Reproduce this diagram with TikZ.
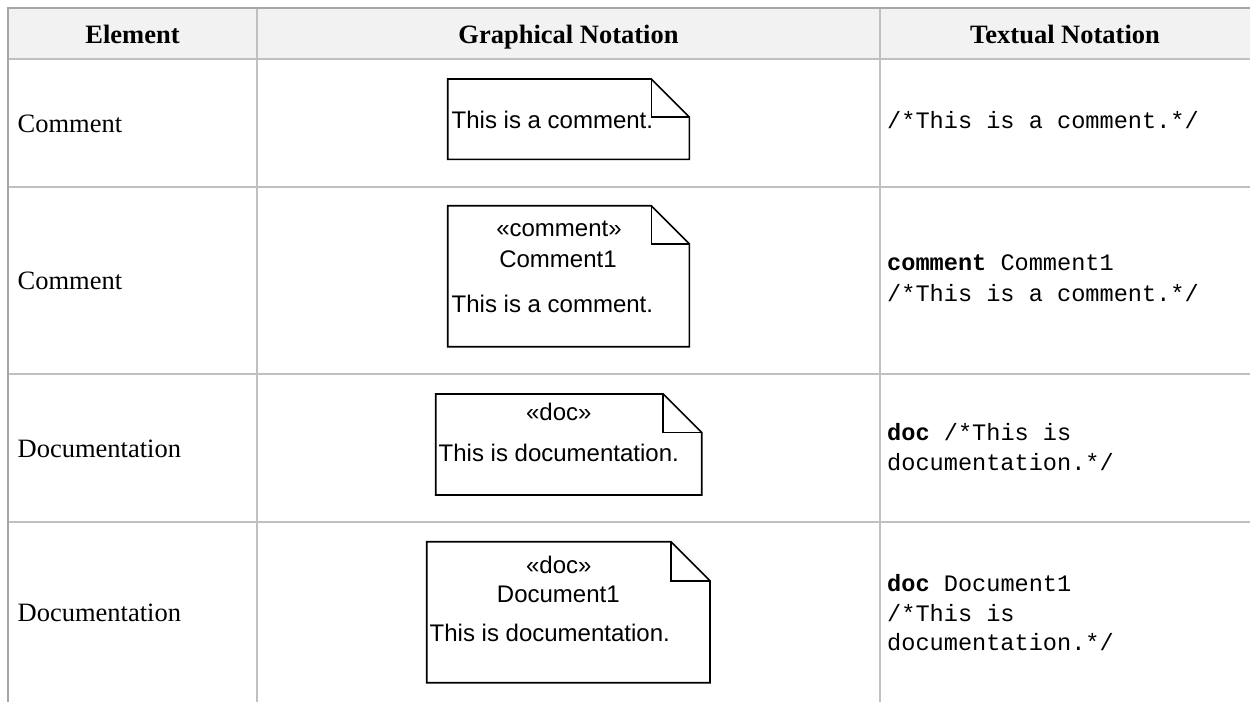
\documentclass[tikz,border=0pt]{standalone}
\usepackage{fontspec}
\setmainfont{Liberation Serif}
\setsansfont{Liberation Sans}
\setmonofont{Liberation Mono}
\definecolor{outerline}{HTML}{A6A6A6}
\definecolor{innerline}{HTML}{C0C0C0}
\definecolor{headfill}{HTML}{F2F2F2}
\newcommand\drawnote[5]{% L T R B fold
  \draw[note] (#1,#2) -- ({#3-#5},#2) -- (#3,{#2+#5}) -- (#3,#4) -- (#1,#4) -- cycle;
  \draw[note] ({#3-#5},#2) -- ({#3-#5},{#2+#5}) -- (#3,{#2+#5});
}
\begin{document}
\begin{tikzpicture}[x=1pt,y=-1pt,
  cell/.style={inner sep=0pt, font=\fontsize{26.5}{30}\selectfont, anchor=base west},
  head/.style={inner sep=0pt, font=\bfseries\fontsize{26.5}{30}\selectfont, anchor=base},
  notetext/.style={inner sep=0pt, font=\sffamily\fontsize{24}{28}\selectfont, anchor=base},
  notebody/.style={notetext, anchor=base west},
  code/.style={inner sep=0pt, font=\ttfamily\fontsize{23.6}{30}\selectfont, anchor=base west},
  note/.style={draw=black, line width=1.6pt, line join=miter},
  outer/.style={draw=outerline, line width=2.6pt},
  inner/.style={draw=innerline, line width=1.4pt}]
\useasboundingbox (0,0) rectangle (1250,702);
\fill[white] (0,0) rectangle (1250,702);
% header background
\fill[headfill] (8,8) rectangle (1250,59);
% grid lines
\draw[inner] (8,59) -- (1250,59);
\draw[inner] (8,187) -- (1250,187);
\draw[inner] (8,374) -- (1250,374);
\draw[inner] (8,522) -- (1250,522);
\draw[inner] (257,8) -- (257,702);
\draw[inner] (880,8) -- (880,702);
\draw[outer] (8,702) -- (8,8) -- (1250,8);
% header
\node[head] (h1) at (132.5,43) {Element};
\node[head] (h2) at (568.5,43) {Graphical Notation};
\node[head] (h3) at (1065,43) {Textual Notation};
% column 1
\node[cell] (e1) at (17.5,132) {Comment};
\node[cell] (e2) at (17.5,289.5) {Comment};
\node[cell] (e3) at (17.5,457) {Documentation};
\node[cell] (e4) at (17.5,621) {Documentation};
% notes
\drawnote{447.7}{79}{689.3}{159.3}{38}
\node[notebody] (n1) at (451.5,128.3) {This is a comment.};
\drawnote{447.7}{205.7}{689.3}{346.7}{38}
\node[notetext] (n2s) at (559,236.5) {«comment»};
\node[notetext] (n2n) at (558,267.3) {Comment1};
\node[notebody] (n2b) at (451.5,312.3) {This is a comment.};
\drawnote{435.7}{394}{701.7}{495}{38.5}
\node[notetext] (n3s) at (558.8,420.7) {«doc»};
\node[notebody] (n3b) at (438.5,461.7) {This is documentation.};
\drawnote{426.7}{541.7}{710}{682.7}{39}
\node[notetext] (n4s) at (558.8,573.3) {«doc»};
\node[notetext] (n4n) at (558.3,602.7) {Document1};
\node[notebody] (n4b) at (429.5,641.7) {This is documentation.};
% textual notation
\node[code] (t1) at (887,128.5) {/*This is a comment.*/};
\node[code] (t2a) at (887,270.7) {\textbf{comment} Comment1};
\node[code] (t2b) at (887,301.5) {/*This is a comment.*/};
\node[code] (t3a) at (887,440.5) {\textbf{doc} /*This is};
\node[code] (t3b) at (887,470) {documentation.*/};
\node[code] (t4a) at (887,591.7) {\textbf{doc} Document1};
\node[code] (t4b) at (887,621.7) {/*This is};
\node[code] (t4c) at (887,650.7) {documentation.*/};
\end{tikzpicture}
\end{document}
